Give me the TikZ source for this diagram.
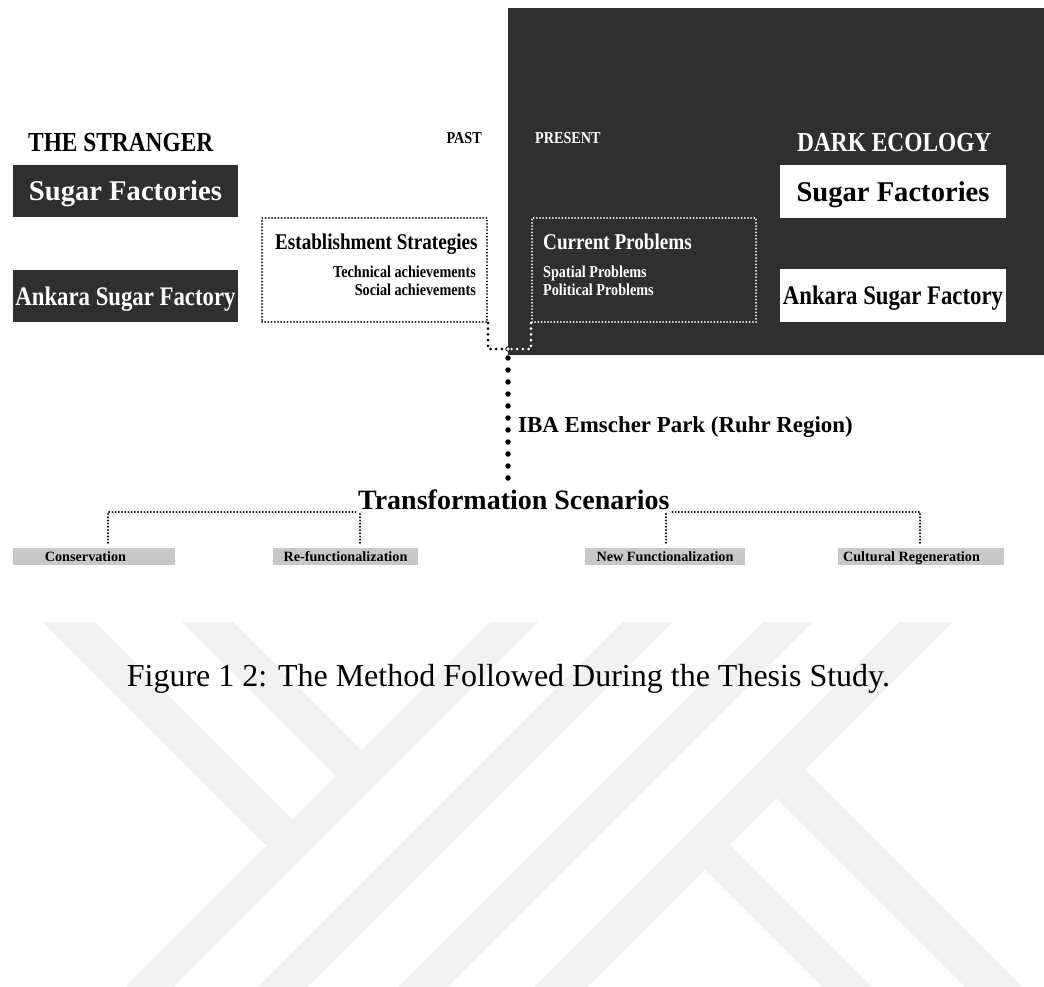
\documentclass[tikz,border=0pt]{standalone}
\usepackage{fontspec}
\setmainfont{Liberation Serif}
\newfontfamily\narrowserif[FakeStretch=0.85]{Liberation Serif}
\usetikzlibrary{positioning}

\definecolor{darkfill}{RGB}{47,47,47}
\definecolor{labelgrey}{RGB}{200,200,200}
\definecolor{markgrey}{RGB}{241,241,241}

\newcommand{\pxsize}[1]{\fontsize{#1}{#1}\selectfont}

\begin{document}
\begin{tikzpicture}[x=1pt,y=-1pt,
    darkbox/.style={fill=darkfill, text=white, minimum width=225, minimum height=52, inner sep=0pt, text depth=0pt},
    lightbox/.style={fill=white, text=black, minimum width=226, minimum height=53, inner sep=0pt, text depth=0pt},
    dotbox/.style={line width=2pt, dash pattern=on 0pt off 3.2pt, line cap=round, minimum width=225, minimum height=104, inner sep=0pt},
    heading/.style={font=\narrowserif\bfseries\pxsize{27.5}, inner sep=0pt},
    boxtitle/.style={font=\narrowserif\bfseries\pxsize{22.5}, inner sep=0pt},
    boxitem/.style={font=\narrowserif\bfseries\pxsize{16.7}, inner sep=0pt},
    scenario/.style={fill=labelgrey, minimum height=17, inner sep=0pt, text depth=0pt, font=\bfseries\pxsize{14.2}},
    linkdots/.style={line width=3pt, dash pattern=on 0pt off 5.7pt, line cap=round},
    bigdots/.style={line width=5.5pt, dash pattern=on 0pt off 12pt, line cap=round},
    treedots/.style={line width=2.2pt, dash pattern=on 0pt off 3.2pt, line cap=round}]

    \useasboundingbox (0,0) rectangle (1044,987);

    % watermark in the background
    \fill[markgrey] (490,622) -- (538,622) -- (173,987) -- (125,987) -- cycle;
    \fill[markgrey] (623,622) -- (672,622) -- (307,987) -- (258,987) -- cycle;
    \fill[markgrey] (763,622) -- (812,622) -- (447,987) -- (398,987) -- cycle;
    \fill[markgrey] (899,622) -- (952,622) -- (587,987) -- (534,987) -- cycle;
    \fill[markgrey] (43,622) -- (95,622) -- (292.5,819.5) -- (266.5,845.5) -- cycle;
    \fill[markgrey] (182,622) -- (233,622) -- (370.5,759.5) -- (345,785) -- cycle;
    \fill[markgrey] (766.5,788.5) -- (795,760) -- (1022,987) -- (965,987) -- cycle;
    \fill[markgrey] (695,860) -- (720,835) -- (872,987) -- (822,987) -- cycle;

    % present side
    \fill[darkfill] (508,8) rectangle (1044,355);

    % headings
    \node[heading, anchor=base west] (stranger) at (28,152) {THE STRANGER};
    \node[heading, anchor=base west, text=white] (darkeco) at (797,152) {DARK ECOLOGY};
    \node[boxitem, anchor=base east] (past) at (482,143.5) {PAST};
    \node[boxitem, anchor=base west, text=white] (present) at (535,143.5) {PRESENT};

    % factory boxes
    \node[darkbox, font=\bfseries\pxsize{28.6}] (lsugar) at (125.5,191) {Sugar Factories};
    \node[darkbox, font=\narrowserif\bfseries\pxsize{26.8}] (lankara) at (125.5,296) {Ankara Sugar Factory};
    \node[lightbox, font=\bfseries\pxsize{28.6}] (rsugar) at (893,191.5) {Sugar Factories};
    \node[lightbox, font=\narrowserif\bfseries\pxsize{26.8}] (rankara) at (893,295.5) {Ankara Sugar Factory};

    % past and present boxes
    \node[dotbox, draw=black] (estbox) at (374.5,270) {};
    \node[boxtitle, anchor=base west] (esttitle) at (275,250) {Establishment Strategies};
    \node[boxitem, anchor=base east] (tech) at (476,277) {Technical achievements};
    \node[boxitem, anchor=base east] (social) at (476,295) {Social achievements};

    \node[dotbox, draw=white, minimum width=224] (curbox) at (644,270) {};
    \node[boxtitle, anchor=base west, text=white] (curtitle) at (543,249) {Current Problems};
    \node[boxitem, anchor=base west, text=white] (spatial) at (543,277) {Spatial Problems};
    \node[boxitem, anchor=base west, text=white] (political) at (543,295) {Political Problems};

    % case study and scenarios
    \node[font=\bfseries\pxsize{22.9}, inner sep=0pt, anchor=base west] (iba) at (518,432) {IBA Emscher Park (Ruhr Region)};
    \node[font=\bfseries\pxsize{28}, inner sep=0pt, anchor=base west] (trans) at (358,509) {Transformation Scenarios};

    \node[scenario, minimum width=162] (cons) at (94,556.5) {Conservation\hspace*{17pt}};
    \node[scenario, minimum width=145] (refn) at (345.5,556.5) {Re-functionalization};
    \node[scenario, minimum width=160] (newf) at (665,556.5) {New Functionalization};
    \node[scenario, minimum width=166] (cult) at (921,556.5) {Cultural Regeneration\hspace*{19pt}};

    % links
    \coordinate (hub) at (508,349);
    \coordinate (hubtop) at (508,358);
    \draw[linkdots] (estbox.south east) |- (hub);
    \draw[linkdots, white] (curbox.south west) |- (hub);
    \draw[bigdots] (hubtop) -- (hubtop |- trans.north);
    \draw[line width=0.8pt, fill=white] (hub) circle (2.2);

    \coordinate (jl) at (358,512);
    \coordinate (jr) at (670,512);
    \draw[treedots] ([xshift=14pt,yshift=5pt]cons.north) |- (jl);
    \draw[treedots] ([xshift=14.5pt,yshift=5pt]refn.north) -- ++(0,-31);
    \draw[treedots] ([xshift=1pt,yshift=5pt]newf.north) -- ++(0,-31);
    \draw[treedots] ([xshift=-1pt,yshift=5pt]cult.north) |- (jr);

    % caption
    \node[font=\pxsize{32}, inner sep=0pt, anchor=base] (caption) at (508.5,686) {Figure 1 2: The Method Followed During the Thesis Study.};
\end{tikzpicture}
\end{document}
